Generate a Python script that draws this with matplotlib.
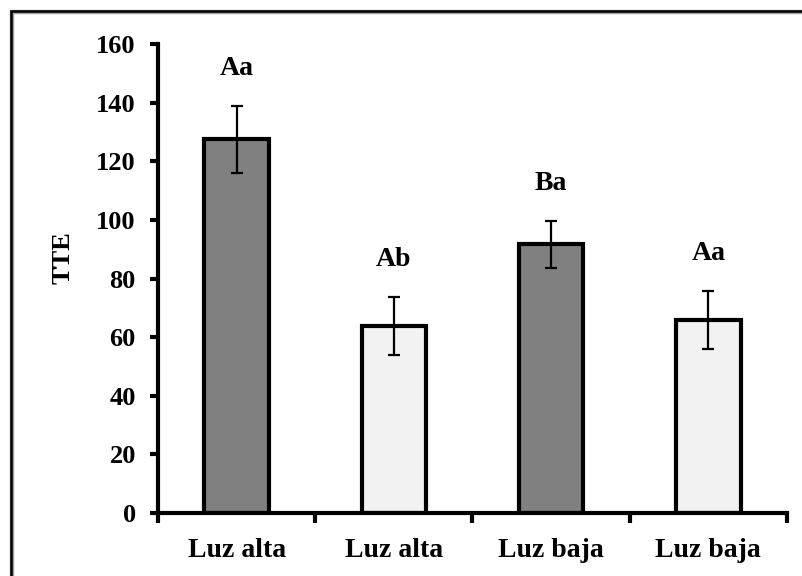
import numpy as np
import matplotlib.pyplot as plt
from matplotlib.patches import Rectangle
from matplotlib.ticker import FixedLocator

# TTE por tratamiento (media y error estándar)
categorias = ['Luz alta', 'Luz alta', 'Luz baja', 'Luz baja']
tte = [127.5, 63.8, 91.7, 65.8]
err = [11.5, 9.8, 8.0, 10.0]
letras = ['Aa', 'Ab', 'Ba', 'Aa']
colores = ['#808080', '#f2f2f2', '#808080', '#f2f2f2']

plt.rcParams['font.family'] = ['Liberation Serif', 'DejaVu Serif']
plt.rcParams['font.weight'] = 'bold'

fig = plt.figure(figsize=(8.03, 5.76), dpi=100)
ax = fig.add_axes([158 / 803, 1 - 513 / 576, (787 - 158) / 803, (513 - 44) / 576])

x = np.arange(len(tte))
ax.bar(x, tte, width=0.41, color=colores, edgecolor='black', linewidth=3.0, zorder=2)
ax.errorbar(x, tte, yerr=err, fmt='none', ecolor='black', elinewidth=1.6,
            capsize=4.5, capthick=1.6, zorder=3)

for xi, v, e, t in zip(x, tte, err, letras):
    ax.annotate(t, (xi, v + e), xytext=(0, 18), textcoords='offset points',
                ha='center', va='bottom', fontsize=20, fontweight='bold')

ax.set_xlim(-0.5, 3.5)
ax.set_ylim(0, 160)
ax.set_yticks(np.arange(0, 161, 20))
ax.set_xticks(x)
ax.set_xticklabels(categorias)
ax.xaxis.set_minor_locator(FixedLocator([-0.5, 0.5, 1.5, 2.5, 3.5]))
ax.tick_params(axis='x', which='major', length=0, pad=18, labelsize=20)
ax.tick_params(axis='x', which='minor', length=7, width=3, direction='out')
ax.tick_params(axis='y', length=6, width=3, direction='out', pad=10, labelsize=19)
ax.set_ylabel('TTE', fontsize=19, fontweight='bold')
ax.yaxis.set_label_coords(-0.133, 0.545)

for s in ['top', 'right']:
    ax.spines[s].set_visible(False)
for s in ['left', 'bottom']:
    ax.spines[s].set_linewidth(3)

# marco del gráfico
fig.patches.append(Rectangle((12 / 803, -0.05), 1.1, 1 - 12 / 576 + 0.05,
                             transform=fig.transFigure, fill=False,
                             edgecolor='#a0a0a0', linewidth=3.2))
fig.patches.append(Rectangle((11 / 803, -0.05), 1.1, 1 - 11 / 576 + 0.05,
                             transform=fig.transFigure, fill=False,
                             edgecolor='black', linewidth=1.8))

fig.savefig('out.png', dpi=100)
